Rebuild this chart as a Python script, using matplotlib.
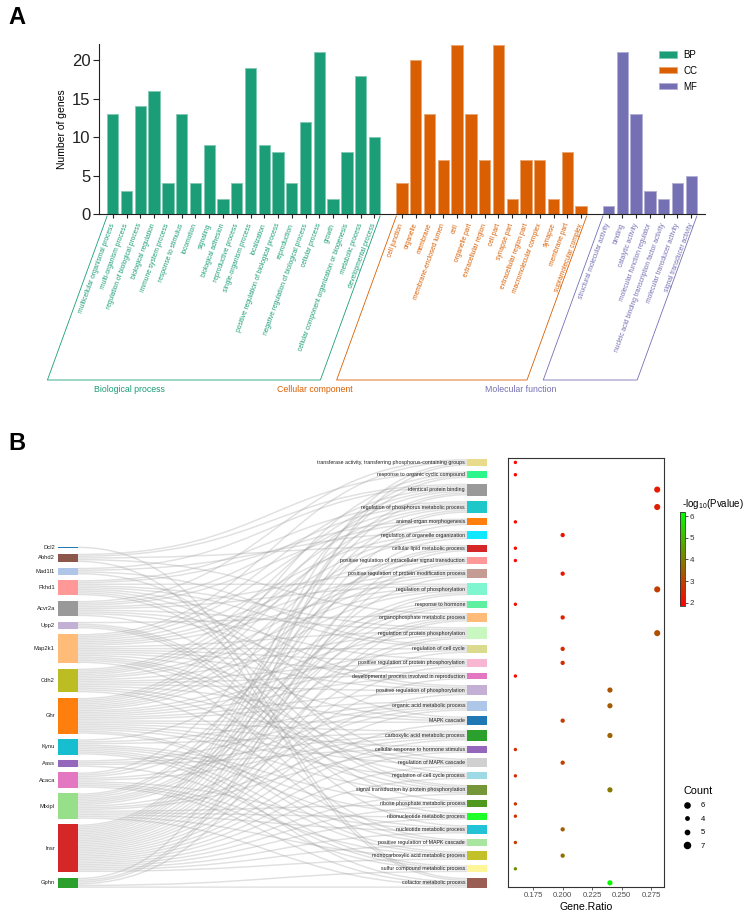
import numpy as np
import matplotlib
matplotlib.use("Agg")
import matplotlib.pyplot as plt
from matplotlib.patches import Rectangle, Patch, PathPatch
from matplotlib.path import Path
from matplotlib.lines import Line2D
from matplotlib.colors import LinearSegmentedColormap, Normalize, to_rgb
from matplotlib.transforms import IdentityTransform

plt.rcParams['font.family'] = ['Liberation Sans', 'DejaVu Sans']
plt.rcParams['mathtext.fontset'] = 'custom'
plt.rcParams['mathtext.rm'] = 'Liberation Sans'
plt.rcParams['mathtext.it'] = 'Liberation Sans:italic'

# ======================= DATA =======================
# Panel A: GO level-2 classification
bp_terms = ["multicellular organismal process", "multi-organism process",
            "regulation of biological process", "biological regulation",
            "immune system process", "response to stimulus", "locomotion",
            "signaling", "biological adhesion", "reproductive process",
            "single-organism process", "localization",
            "positive regulation of biological process", "reproduction",
            "negative regulation of biological process", "cellular process",
            "growth", "cellular component organization or biogenesis",
            "metabolic process", "developmental process"]
bp_counts = [13, 3, 14, 16, 4, 13, 4, 9, 2, 4, 19, 9, 8, 4, 12, 21, 2, 8, 18, 10]
cc_terms = ["cell junction", "organelle", "membrane", "membrane-enclosed lumen",
            "cell", "organelle part", "extracellular region", "cell part",
            "synapse part", "extracellular region part", "macromolecular complex",
            "synapse", "membrane part", "supramolecular complex"]
cc_counts = [4, 20, 13, 7, 22, 13, 7, 22, 2, 7, 7, 2, 8, 1]
mf_terms = ["structural molecular activity", "binding", "catalytic activity",
            "molecular function regulator",
            "nucleic acid binding transcription factor activity",
            "molecular transducer activity", "signal transducer activity"]
mf_counts = [1, 21, 13, 3, 2, 4, 5]
go_groups = ["BP", "CC", "MF"]
go_group_titles = ["Biological process", "Cellular component", "Molecular function"]
go_group_colors = ["#1b9e77", "#d95f02", "#7570b3"]

# Panel B: genes -> enriched terms
genes = ["Dcl2", "Abhd2", "Mad1l1", "Pkhd1", "Acvr2a", "Upp2", "Map2k1", "Cdh2",
         "Ghr", "Kynu", "Aass", "Acaca", "Mlxipl", "Insr", "Gphn"]
gene_colors = ["#1f77b4", "#8c564b", "#aec7e8", "#ff9896", "#999999", "#c5b0d5",
               "#ffbb78", "#bcbd22", "#ff7f0e", "#17becf", "#9467bd", "#e377c2",
               "#98df8a", "#d62728", "#2ca02c"]
terms = ["transferase activity, transferring phosphorus-containing groups",
         "response to organic cyclic compound",
         "identical protein binding",
         "regulation of phosphorus metabolic process",
         "animal organ morphogenesis",
         "regulation of organelle organization",
         "cellular lipid metabolic process",
         "positive regulation of intracellular signal transduction",
         "positive regulation of protein modification process",
         "regulation of phosphorylation",
         "response to hormone",
         "organophosphate metabolic process",
         "regulation of protein phosphorylation",
         "regulation of cell cycle",
         "positive regulation of protein phosphorylation",
         "developmental process involved in reproduction",
         "positive regulation of phosphorylation",
         "organic acid metabolic process",
         "MAPK cascade",
         "carboxylic acid metabolic process",
         "cellular response to hormone stimulus",
         "regulation of MAPK cascade",
         "regulation of cell cycle process",
         "signal transduction by protein phosphorylation",
         "ribose phosphate metabolic process",
         "ribonucleotide metabolic process",
         "nucleotide metabolic process",
         "positive regulation of MAPK cascade",
         "monocarboxylic acid metabolic process",
         "sulfur compound metabolic process",
         "cofactor metabolic process"]
term_colors = ["#e8dc8c", "#2cf58a", "#999999", "#1ec8c8", "#ff7f0e", "#11e8ff",
               "#d62728", "#ff9896", "#c49c94", "#7ff5d0", "#5ef0a0", "#ffbb78",
               "#c9f7c0", "#dbdb8d", "#f7b6d2", "#e377c2", "#c5b0d5", "#aec7e8",
               "#1f77b4", "#2ca02c", "#9467bd", "#d0d0d0", "#9edae5", "#76963a",
               "#4f9a1e", "#1fff2a", "#22c3d6", "#a8e6a0", "#c2c12a", "#fff599",
               "#9b5e55"]
term_genes = [
    ["Insr", "Map2k1", "Acvr2a", "Gphn"],
    ["Insr", "Ghr", "Abhd2", "Acaca"],
    ["Insr", "Ghr", "Map2k1", "Cdh2", "Mad1l1", "Mlxipl", "Abhd2"],
    ["Insr", "Ghr", "Map2k1", "Cdh2", "Acvr2a", "Pkhd1", "Mlxipl"],
    ["Insr", "Acvr2a", "Cdh2", "Pkhd1"],
    ["Insr", "Mad1l1", "Map2k1", "Cdh2", "Ghr"],
    ["Acaca", "Mlxipl", "Gphn", "Abhd2"],
    ["Insr", "Ghr", "Map2k1", "Gphn"],
    ["Insr", "Ghr", "Map2k1", "Acvr2a", "Cdh2"],
    ["Insr", "Ghr", "Map2k1", "Cdh2", "Acvr2a", "Pkhd1", "Mlxipl"],
    ["Insr", "Kynu", "Acaca", "Mlxipl"],
    ["Insr", "Mlxipl", "Upp2", "Abhd2", "Gphn"],
    ["Insr", "Ghr", "Map2k1", "Cdh2", "Acvr2a", "Pkhd1", "Mlxipl"],
    ["Insr", "Mad1l1", "Map2k1", "Pkhd1", "Ghr"],
    ["Insr", "Ghr", "Map2k1", "Acvr2a", "Cdh2"],
    ["Insr", "Map2k1", "Ghr", "Cdh2"],
    ["Insr", "Ghr", "Map2k1", "Acvr2a", "Cdh2", "Pkhd1"],
    ["Kynu", "Aass", "Acaca", "Mlxipl", "Insr", "Ghr"],
    ["Map2k1", "Insr", "Ghr", "Cdh2", "Pkhd1"],
    ["Kynu", "Aass", "Acaca", "Mlxipl", "Insr", "Ghr"],
    ["Insr", "Ghr", "Aass", "Mlxipl"],
    ["Map2k1", "Insr", "Ghr", "Cdh2", "Pkhd1"],
    ["Mad1l1", "Map2k1", "Insr", "Ghr"],
    ["Map2k1", "Insr", "Ghr", "Acvr2a", "Cdh2", "Pkhd1"],
    ["Upp2", "Kynu", "Mlxipl", "Insr"],
    ["Upp2", "Kynu", "Mlxipl", "Insr"],
    ["Upp2", "Kynu", "Mlxipl", "Insr", "Acaca"],
    ["Map2k1", "Insr", "Ghr", "Cdh2"],
    ["Kynu", "Acaca", "Mlxipl", "Insr", "Ghr"],
    ["Acaca", "Gphn", "Kynu", "Aass"],
    ["Gphn", "Kynu", "Acaca", "Mlxipl", "Dcl2", "Abhd2"],
]
gene_ratio = [0.16, 0.16, 0.28, 0.28, 0.16, 0.20, 0.16, 0.16, 0.20, 0.28,
              0.16, 0.20, 0.28, 0.20, 0.20, 0.16, 0.24, 0.24, 0.20, 0.24,
              0.16, 0.20, 0.16, 0.24, 0.16, 0.16, 0.20, 0.16, 0.20, 0.16, 0.24]
neg_log10_p = [1.9, 1.9, 2.3, 2.4, 1.95, 2.15, 2.0, 2.0, 2.2, 2.9,
               2.05, 2.35, 3.2, 2.55, 2.6, 2.0, 3.3, 3.4, 2.85, 3.55,
               2.6, 3.0, 2.65, 3.9, 2.75, 2.75, 3.45, 2.9, 3.75, 4.3, 6.1]
count_legend = [6, 4, 5, 7]

# ======================= FIGURE =======================
W, H, DPI = 750, 914, 100
fig = plt.figure(figsize=(W / DPI, H / DPI), dpi=DPI)


def add_axes_px(x0, y0, x1, y1):
    return fig.add_axes([x0 / W, 1 - y1 / H, (x1 - x0) / W, (y1 - y0) / H])


fig.text(8 / W, 1 - 6 / H, "A", fontsize=17, fontweight='bold', va='top', ha='left')
fig.text(8 / W, 1 - 432 / H, "B", fontsize=17, fontweight='bold', va='top', ha='left')

# ---------------- Panel A ----------------
axA = add_axes_px(99, 44, 705, 214)
positions, labels, label_colors, spans = [], [], [], []
start = 0
for names, counts, col, g in zip([bp_terms, cc_terms, mf_terms],
                                 [bp_counts, cc_counts, mf_counts],
                                 go_group_colors, go_groups):
    x = np.arange(start, start + len(counts))
    light = tuple(0.55 * np.array(to_rgb(col)) + 0.45)
    axA.bar(x, counts, width=0.82, color=col, edgecolor=light, linewidth=0.7,
            zorder=2, label=g)
    positions.extend(x)
    labels.extend(names)
    label_colors.extend([col] * len(names))
    spans.append((x[0], x[-1]))
    start += len(counts) + 1
axA.set_xlim(-1.0, start - 1.0)
axA.set_ylim(0, 22.1)
axA.set_yticks([0, 5, 10, 15, 20])
axA.tick_params(axis='y', labelsize=12, length=4, width=0.8, pad=2, colors='#222222')
axA.set_xticks(positions)
axA.set_xticklabels(labels, rotation=70, ha='right', va='center',
                    rotation_mode='anchor', fontsize=4.8)
for t, c in zip(axA.get_xticklabels(), label_colors):
    t.set_color(c)
axA.tick_params(axis='x', length=3, width=0.8, pad=4, color='#222222')
for s in ['top', 'right']:
    axA.spines[s].set_visible(False)
for s in ['left', 'bottom']:
    axA.spines[s].set_color('#222222')
    axA.spines[s].set_linewidth(0.8)
axA.set_ylabel("Number of genes", fontsize=7.5)
axA.yaxis.set_label_coords(-0.053, 0.5)
axA.legend(loc='upper left', bbox_to_anchor=(659 / W, 1 - 50 / H),
           bbox_transform=fig.transFigure, frameon=False, fontsize=7,
           handlelength=1.8, handleheight=0.6, labelspacing=0.6,
           borderaxespad=0, borderpad=0, handletextpad=0.7)

# group brackets below the rotated labels
fig.canvas.draw()
slope = 1 / np.tan(np.radians(70))
top_y = axA.transAxes.transform((0, 0))[1] - 2
bot_y = H - 380
dy = top_y - bot_y
title_x = [1.2, 14.7, 29.6]   # title anchor (bar-index units)
for (a, b), col, title, tx in zip(spans, go_group_colors, go_group_titles, title_x):
    xl = axA.transData.transform((a - 0.41, 0))[0]
    xr = axA.transData.transform((b + 0.41, 0))[0]
    xs = [xl, xl - dy * slope, xr - dy * slope, xr]
    ys = [top_y, bot_y, bot_y, top_y]
    fig.add_artist(Line2D(xs, ys, transform=IdentityTransform(), color=col, lw=0.6))
    fig.text(axA.transData.transform((tx, 0))[0], bot_y - 5, title,
             transform=IdentityTransform(), ha='center', va='top', fontsize=6.3,
             color=col)

# ---------------- Panel B: Sankey ----------------
ky = 1.709          # pixels per gene-term link
node_pad = 3.2      # gap between nodes (link units)
top_px = 459.0
term_sizes = np.array([len(g) for g in term_genes], dtype=float)
gene_sizes = np.array([sum(g in tg for tg in term_genes) for g in genes], dtype=float)
total = term_sizes.sum()
term_y0 = np.concatenate([[0], np.cumsum(term_sizes[:-1] + node_pad)])
col_h = total + node_pad * (len(terms) - 1)
gene_h = total + node_pad * (len(genes) - 1)
gene_y0 = col_h - gene_h + np.concatenate([[0], np.cumsum(gene_sizes[:-1] + node_pad)])
term_center = term_y0 + term_sizes / 2


def ylim_for(py0, py1):
    return ((py1 - top_px) / ky, (py0 - top_px) / ky)


axS = add_axes_px(0, 457, 500, 889)
axS.set_xlim(0, 500)
axS.set_ylim(*ylim_for(457, 889))
axS.axis('off')

gx0, gx1 = 58, 78
tx0, tx1 = 467, 487

links = []
for gi, g in enumerate(genes):
    for ti, tg in enumerate(term_genes):
        if g in tg:
            links.append((gi, ti))
gcur = gene_y0.copy()
tcur = term_y0.copy()
src = {}
for gi, ti in links:
    src[(gi, ti)] = gcur[gi]
    gcur[gi] += 1
tgt = {}
for gi, ti in sorted(links, key=lambda l: (l[1], l[0])):
    tgt[(gi, ti)] = tcur[ti]
    tcur[ti] += 1
xm = (gx1 + tx0) / 2
lw_pt = ky * 0.85 * 72 / DPI
for key in links:
    y0 = src[key] + 0.5
    y1 = tgt[key] + 0.5
    p = Path([(gx1, y0), (xm, y0), (xm, y1), (tx0, y1)],
             [Path.MOVETO, Path.CURVE4, Path.CURVE4, Path.CURVE4])
    axS.add_patch(PathPatch(p, facecolor='none', edgecolor='#a0a0a0', alpha=0.32,
                            lw=lw_pt, zorder=1, capstyle='butt'))

for gi, g in enumerate(genes):
    axS.add_patch(Rectangle((gx0, gene_y0[gi]), gx1 - gx0, gene_sizes[gi],
                            facecolor=gene_colors[gi], edgecolor='none', zorder=3,
                            clip_on=False))
    axS.text(gx0 - 3, gene_y0[gi] + gene_sizes[gi] / 2, g, ha='right', va='center',
             fontsize=4.2, color='#222222', zorder=4)
for ti, t in enumerate(terms):
    axS.add_patch(Rectangle((tx0, term_y0[ti]), tx1 - tx0, term_sizes[ti],
                            facecolor=term_colors[ti], edgecolor='none', zorder=3,
                            clip_on=False))
    axS.text(tx0 - 2, term_center[ti], t, ha='right', va='center',
             fontsize=3.8, color='#222222', zorder=4)

# ---------------- Panel B: dot plot ----------------
axD = add_axes_px(508.3, 458, 664.3, 886.7)
cmap = LinearSegmentedColormap.from_list('rg', ['#ff0000', '#00ff00'])
norm = Normalize(vmin=1.85, vmax=6.2)
counts_b = np.array([len(g) for g in term_genes])


def dot_diam_px(c):
    return 3.4 + 0.9 * (np.asarray(c) - 4)


sc = axD.scatter(gene_ratio, term_center, s=(dot_diam_px(counts_b) * 72 / DPI) ** 2,
                 c=neg_log10_p, cmap=cmap, norm=norm, linewidths=0, zorder=3)
axD.set_ylim(*ylim_for(458, 886.7))
axD.set_xlim(0.154, 0.286)
axD.set_xticks([0.175, 0.200, 0.225, 0.250, 0.275])
axD.set_xticklabels(["0.175", "0.200", "0.225", "0.250", "0.275"])
axD.set_yticks([])
axD.tick_params(axis='x', labelsize=5.6, length=2.5, width=0.6, pad=1.5,
                colors='#4d4d4d')
for s in axD.spines.values():
    s.set_color('#333333')
    s.set_linewidth(0.8)
axD.set_xlabel("Gene.Ratio", fontsize=7.6, labelpad=2)

cax = add_axes_px(680, 511.7, 685, 606)
cb = fig.colorbar(sc, cax=cax, ticks=[2, 3, 4, 5, 6])
cb.outline.set_linewidth(0.6)
cb.outline.set_edgecolor('#333333')
cax.tick_params(labelsize=5.8, length=2, width=0.6, pad=1.5, colors='#333333')
fig.text(682 / W, 1 - 511 / H, r"-log$_{10}$(Pvalue)", fontsize=7,
         ha='left', va='bottom')

handles = [Line2D([], [], marker='o', linestyle='', color='black',
                  markersize=dot_diam_px(c) * 72 / DPI) for c in count_legend]
leg = fig.legend(handles, [str(c) for c in count_legend], title="Count",
                 loc='upper left', bbox_to_anchor=(683 / W, 1 - 786 / H),
                 frameon=False, fontsize=5.5, title_fontsize=7.8,
                 handlelength=1.0, handletextpad=1.3, labelspacing=0.8,
                 borderpad=0, borderaxespad=0)
leg._legend_box.align = 'left'

fig.savefig("out.png", dpi=DPI)
